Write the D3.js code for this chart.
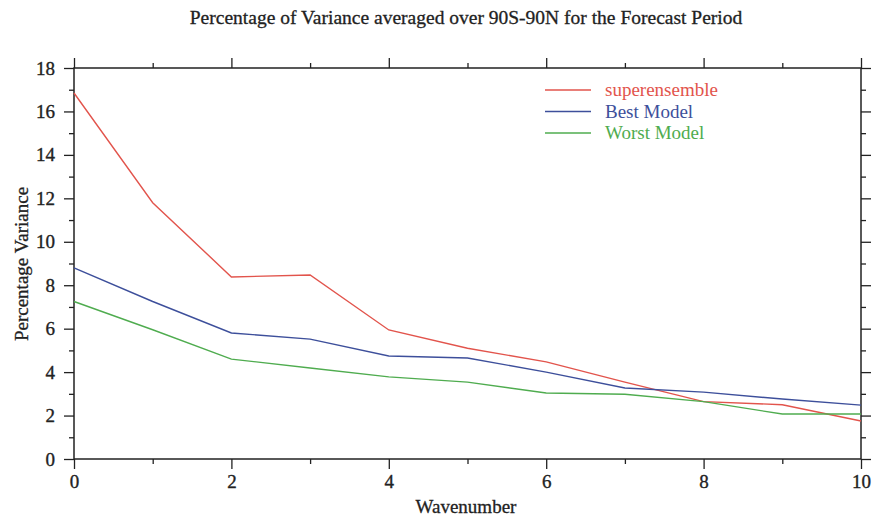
<!DOCTYPE html>
<html><head><meta charset="utf-8">
<script src="https://cdn.jsdelivr.net/npm/d3@7"></script>
<style>body{margin:0;background:#fff}svg{display:block}text{font-family:"Liberation Serif","Times New Roman",serif;fill:#222}</style>
</head><body><svg id="c" width="873" height="516"></svg>
<script>
const wavenumbers = [0,1,2,3,4,5,6,7,8,9,10];
const superensemble = [16.85,11.8,8.38,8.47,5.94,5.1,4.47,3.54,2.64,2.5,1.75];
const bestModel = [8.8,7.25,5.8,5.52,4.74,4.65,4.0,3.27,3.08,2.76,2.48];
const worstModel = [7.25,5.95,4.6,4.19,3.78,3.54,3.04,2.98,2.64,2.07,2.07];
const seriesNames = ["superensemble","Best Model","Worst Model"];
const seriesColors = ["#e2544c","#3d4f9b","#4fac4f"];
const xTicks = [0,2,4,6,8,10];
const yTicks = [0,2,4,6,8,10,12,14,16,18];

const svg = d3.select("#c");
const L=74,R=861,T=68,B=459;
const x = d3.scaleLinear().domain([0,10]).range([L,R]);
const y = d3.scaleLinear().domain([0,18]).range([B,T]);

const minorX = d3.range(0,11,1).filter(v=>v%2), minorY = d3.range(0,19,1).filter(v=>v%2);
const noDom = g=>g.select(".domain").remove();
const MJ=10, MN=5;
// bottom
svg.append("g").attr("transform",`translate(0,${B})`).call(d3.axisBottom(x).tickValues(minorX).tickSize(MN).tickFormat("")).call(noDom);
svg.append("g").attr("transform",`translate(0,${B})`).call(d3.axisBottom(x).tickValues(xTicks).tickSize(MJ).tickPadding(6).tickFormat(d3.format("d"))).call(noDom);
// top
svg.append("g").attr("transform",`translate(0,${T})`).call(d3.axisTop(x).tickValues(minorX).tickSize(MN).tickFormat("")).call(noDom);
svg.append("g").attr("transform",`translate(0,${T})`).call(d3.axisTop(x).tickValues(xTicks).tickSize(MJ).tickFormat("")).call(noDom);
// left
svg.append("g").attr("transform",`translate(${L},0)`).call(d3.axisLeft(y).tickValues(minorY).tickSize(MN).tickFormat("")).call(noDom);
svg.append("g").attr("transform",`translate(${L},0)`).call(d3.axisLeft(y).tickValues(yTicks).tickSize(MJ).tickPadding(9).tickFormat(d3.format("d"))).call(noDom);
// right
svg.append("g").attr("transform",`translate(${R},0)`).call(d3.axisRight(y).tickValues(minorY).tickSize(MN).tickFormat("")).call(noDom);
svg.append("g").attr("transform",`translate(${R},0)`).call(d3.axisRight(y).tickValues(yTicks).tickSize(MJ).tickFormat("")).call(noDom);

svg.selectAll(".tick line").attr("stroke","#222").attr("stroke-width",1.3);
svg.selectAll(".tick text").style("font-family",'"Liberation Serif",serif').style("font-size","19px").attr("fill","#222").attr("stroke","#222").attr("stroke-width",0.35);

svg.append("rect").attr("x",L).attr("y",T).attr("width",R-L).attr("height",B-T).attr("fill","none").attr("stroke","#222").attr("stroke-width",1.5);

const data=[superensemble,bestModel,worstModel];
const line=d3.line().x((d,i)=>x(wavenumbers[i])).y(d=>y(d));
data.forEach((s,k)=>{
  svg.append("path").datum(s).attr("d",line).attr("fill","none").attr("stroke",seriesColors[k]).attr("stroke-width",1.4);
});

// legend
seriesNames.forEach((n,k)=>{
  const ly=90+k*21.5;
  svg.append("line").attr("x1",545).attr("x2",591).attr("y1",ly).attr("y2",ly).attr("stroke",seriesColors[k]).attr("stroke-width",1.4);
  svg.append("text").attr("x",605).attr("y",ly+6).text(n).style("font-size","19px").style("fill",seriesColors[k]);
});

const lab = s=>s.attr("stroke","#222").attr("stroke-width",0.3);
svg.append("text").attr("x",466).attr("y",24).attr("text-anchor","middle").style("font-size","19.5px").text("Percentage of Variance averaged over 90S-90N for the Forecast Period").call(lab);
svg.append("text").attr("x",466).attr("y",513).attr("text-anchor","middle").style("font-size","19px").text("Wavenumber").call(lab);
svg.append("text").attr("transform","translate(28,264) rotate(-90)").attr("text-anchor","middle").style("font-size","19px").text("Percentage Variance").call(lab);
</script></body></html>
